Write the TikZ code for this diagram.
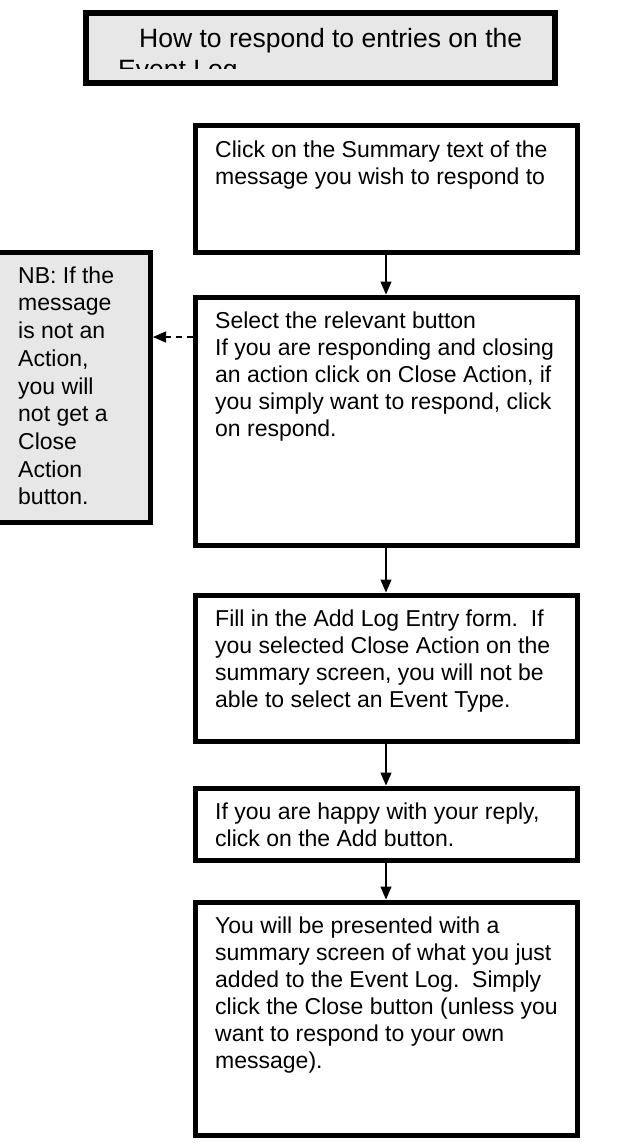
\documentclass[tikz,border=0pt]{standalone}
\usepackage{fontspec}
\setmainfont{Liberation Sans}
\usetikzlibrary{arrows.meta}
\definecolor{panelgray}{RGB}{231,231,231}
\newcommand{\firstline}{\rule{0pt}{17pt}}
\begin{document}
\begin{tikzpicture}[x=1pt,y=-1pt,
  stepbox/.style={draw, line width=5pt, rectangle, inner sep=0pt, anchor=north west},
  bodytext/.style={anchor=north west, inner sep=0pt, align=left, font=\fontsize{23}{27}\selectfont},
  flowarrow/.style={line width=1.3pt, -{Triangle[width=11pt,length=13pt]}},
  notearrow/.style={line width=1.3pt, dash pattern=on 6pt off 5pt, -{Triangle[width=11pt,length=13pt]}}]
\useasboundingbox (0,0) rectangle (629,1144);
% title
\node[stepbox, line width=6pt, fill=panelgray, minimum width=469pt, minimum height=70pt] (title) at (83,10) {};
\begin{scope}
\clip (80,14) rectangle (555,68.5);
\node[anchor=base west, inner sep=0pt, font=\fontsize{26.5}{31}\selectfont] (t1) at (139,47) {How to respond to entries on the};
\node[anchor=base west, inner sep=0pt, font=\fontsize{26.5}{31}\selectfont] (t2) at (118,78) {Event Log};
\end{scope}
% boxes
\node[stepbox, minimum width=382pt, minimum height=127pt] (b1) at (192.5,122.5) {};
\node[bodytext] (x1) at (215,140) {\firstline Click on the Summary text of the\\message you wish to respond to};
\node[stepbox, minimum width=382pt, minimum height=248pt] (b2) at (192.5,294.5) {};
\node[bodytext] (x2) at (215,311) {\firstline Select the relevant button\\If you are responding and closing\\an action click on Close Action, if\\you simply want to respond, click\\on respond.};
\node[stepbox, minimum width=382pt, minimum height=146pt] (b3) at (192.5,592.5) {};
\node[bodytext] (x3) at (215,609) {\firstline Fill in the Add Log Entry form.\ \ If\\you selected Close Action on the\\summary screen, you will not be\\able to select an Event Type.};
\node[stepbox, minimum width=382pt, minimum height=72pt] (b4) at (192.5,785.5) {};
\node[bodytext] (x4) at (215,802) {\firstline If you are happy with your reply,\\click on the Add button.};
\node[stepbox, minimum width=382pt, minimum height=233pt] (b5) at (192.5,899.5) {};
\node[bodytext] (x5) at (215,916) {\firstline You will be presented with a\\summary screen of what you just\\added to the Event Log.\ \ Simply\\click the Close button (unless you\\want to respond to your own\\message).};
% note
\node[stepbox, fill=panelgray, minimum width=160pt, minimum height=270pt] (nb) at (-12,249.5) {};
\node[bodytext, font=\fontsize{23}{27.7}\selectfont] (xn) at (18,266) {\firstline NB: If the\\message\\is not an\\Action,\\you will\\not get a\\Close\\Action\\button.};
% connectors
\draw[flowarrow] (b1.south) -- (b2.north);
\draw[flowarrow] (b2.south) -- (b3.north);
\draw[flowarrow] (b3.south) -- (b4.north);
\draw[flowarrow] (b4.south) -- (b5.north);
\coordinate (dy) at (0,337);
\draw[notearrow] (b2.west |- dy) -- (nb.east |- dy);
\end{tikzpicture}
\end{document}
